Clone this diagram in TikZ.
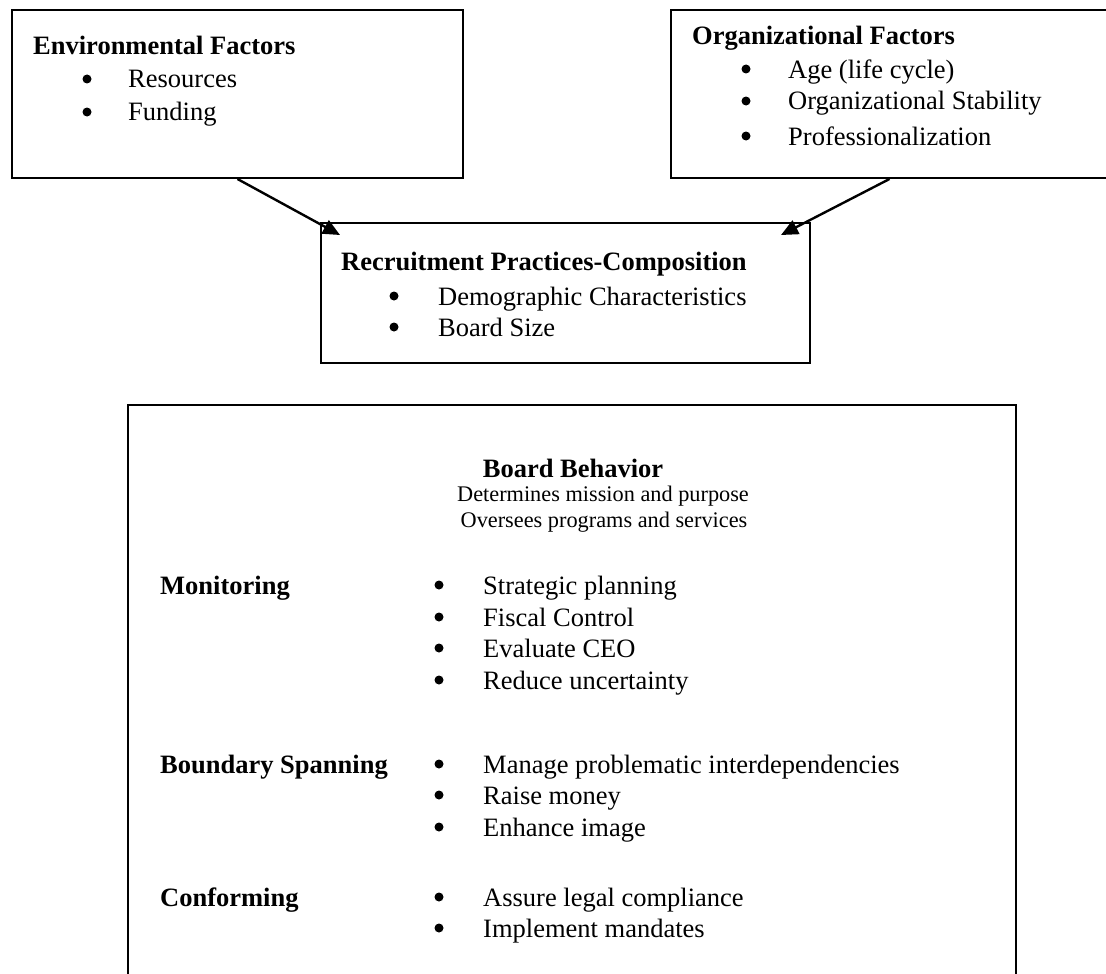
\documentclass[tikz,border=0pt]{standalone}
\usepackage{fontspec}
\setmainfont{Liberation Serif}
\usetikzlibrary{arrows.meta,calc}
\begin{document}
\begin{tikzpicture}[x=1pt,y=-1pt,
  box/.style={draw, line width=2pt, inner sep=0pt},
  conn/.style={line width=2.4pt, -{Triangle[length=17pt,width=15pt]}},
  txt/.style={anchor=base west, inner sep=0pt, font=\fontsize{26.5}{32}\selectfont},
  stxt/.style={anchor=base, inner sep=0pt, font=\fontsize{22.3}{26}\selectfont},
  btxt/.style={anchor=base west, inner sep=0pt, font=\fontsize{26.5}{32}\selectfont\bfseries},
  dot/.style={circle, fill, inner sep=0pt, minimum size=9pt},
]
\useasboundingbox (0,0) rectangle (1106,974);

% boxes
\node[box, minimum width=451pt, minimum height=168pt] (env) at (237.5,94) {};
\node[box, minimum width=437pt, minimum height=168pt] (org) at (889.5,94) {};
\node[box, minimum width=489pt, minimum height=140pt] (rec) at (565.5,293) {};
\node[box, minimum width=888pt, minimum height=600pt] (board) at (572,705) {};

% environmental
\node[btxt] (envT) at (33,55) {Environmental Factors};
\node[dot] (envD1) at (87,79) {};
\node[dot] (envD2) at (87,112) {};
\node[txt] (envA) at (128,88) {Resources};
\node[txt] (envB) at (128,121) {Funding};

% organizational
\node[btxt] (orgT) at (692,45) {Organizational Factors};
\node[dot] (orgD1) at (746,69) {};
\node[dot] (orgD2) at (746,101) {};
\node[dot] (orgD3) at (746,136) {};
\node[txt] (orgA) at (788,78) {Age (life cycle)};
\node[txt] (orgB) at (788,110) {Organizational Stability};
\node[txt] (orgC) at (788,145) {Professionalization};

% recruitment
\node[btxt] (recT) at (341,270) {Recruitment Practices-Composition};
\node[dot] (recD1) at (394,296) {};
\node[dot] (recD2) at (394,327) {};
\node[txt] (recA) at (438,305) {Demographic Characteristics};
\node[txt] (recB) at (438,336) {Board Size};

% arrows
\coordinate (tipL) at ($(rec.north west)+(20,13)$);
\coordinate (tipR) at ($(rec.north east)+(-30,13)$);
\draw[conn] (env.south) -- (tipL);
\draw[conn] (org.south) -- (tipR);

% board behavior
\node[btxt, anchor=base] (bbT) at (573,477) {Board Behavior};
\node[stxt] (bbA) at (603,501) {Determines mission and purpose};
\node[stxt] (bbB) at (604,527) {Oversees programs and services};

\node[btxt] (mon) at (160,594) {Monitoring};
\node[btxt] (bsp) at (160,773) {Boundary Spanning};
\node[btxt] (con) at (160,906) {Conforming};

\foreach \y/\t [count=\i] in {585/Strategic planning, 617/Fiscal Control, 648/Evaluate CEO, 680/Reduce uncertainty,
  764/Manage problematic interdependencies, 795/Raise money, 827/Enhance image,
  897/Assure legal compliance, 928/Implement mandates}{
  \node[dot] (bd\i) at (439,\y) {};
  \node[txt] (bt\i) at (483,\y+9) {\t};
}
\end{tikzpicture}
\end{document}
